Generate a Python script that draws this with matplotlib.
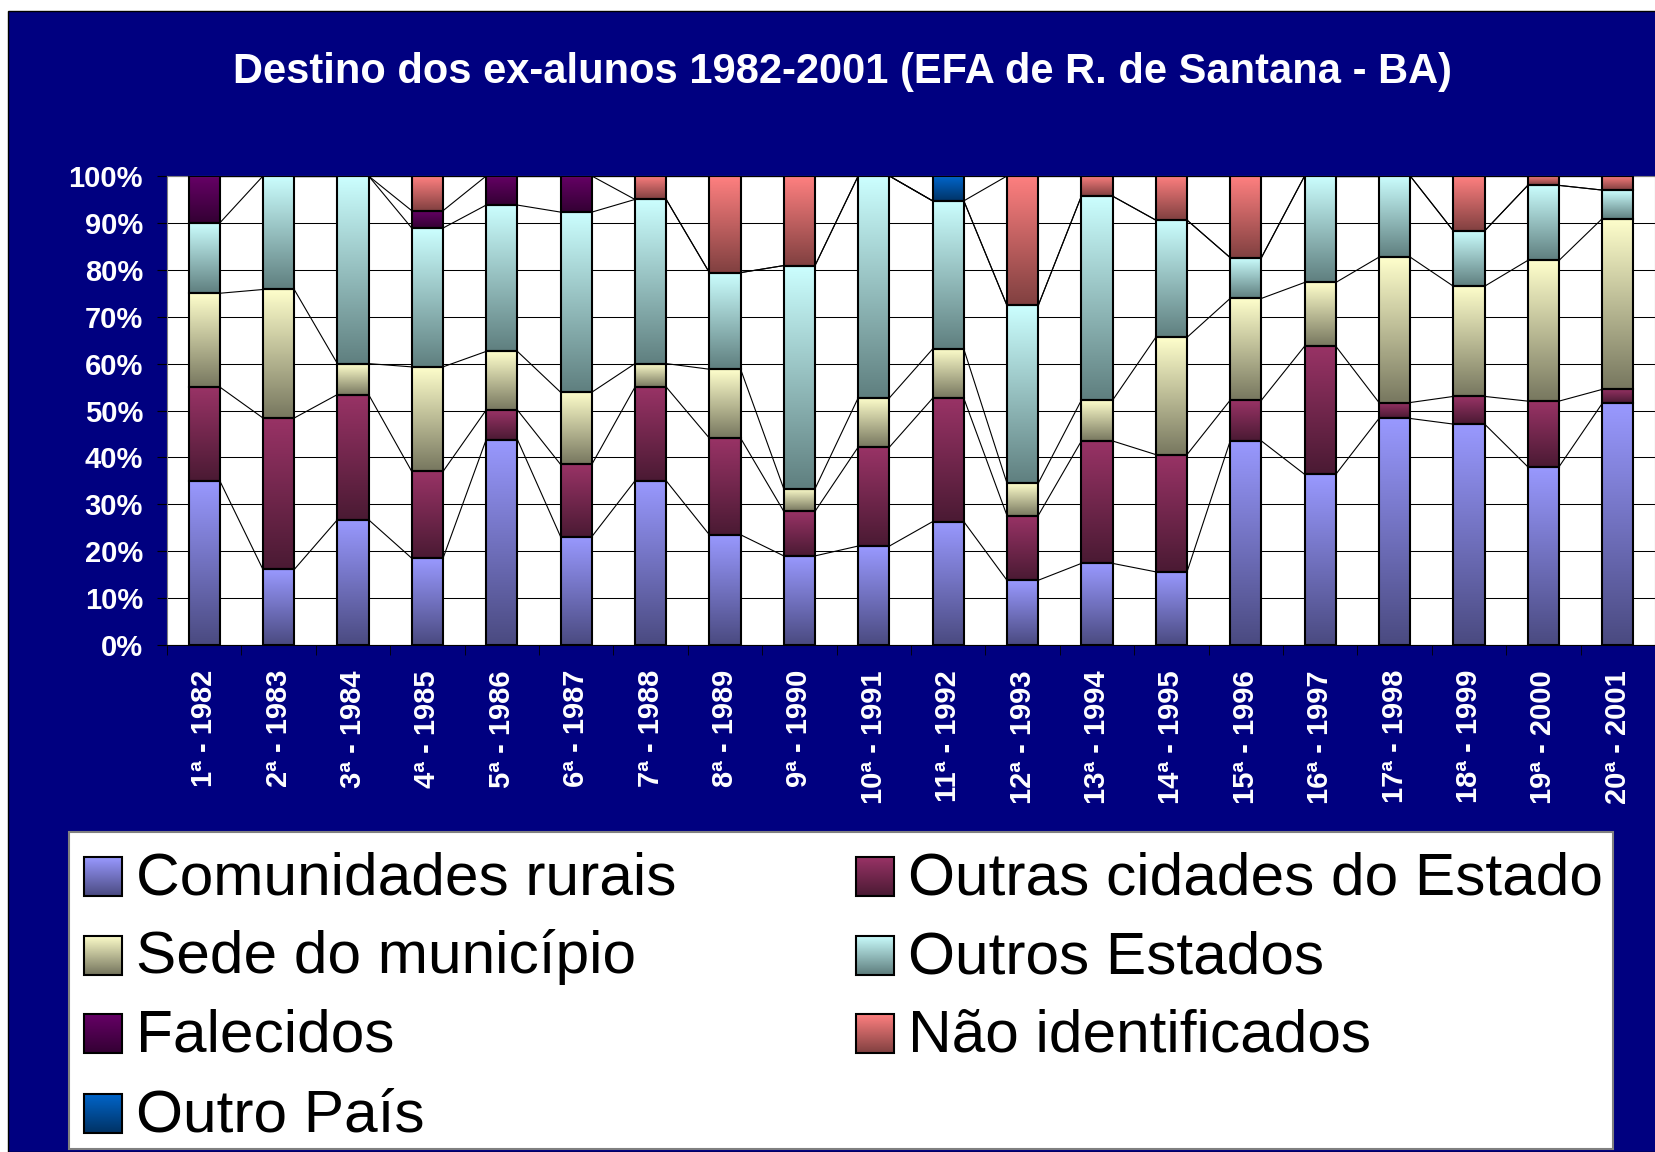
import numpy as np
import matplotlib
matplotlib.use("Agg")
import matplotlib.pyplot as plt
from matplotlib.patches import Rectangle
from matplotlib.colors import LinearSegmentedColormap

plt.rcParams["font.family"] = ["Liberation Sans", "DejaVu Sans"]

# ===============================
# DATA (percent of each class)
# ===============================
turmas = [
    "1ª - 1982", "2ª - 1983", "3ª - 1984", "4ª - 1985", "5ª - 1986",
    "6ª - 1987", "7ª - 1988", "8ª - 1989", "9ª - 1990", "10ª - 1991",
    "11ª - 1992", "12ª - 1993", "13ª - 1994", "14ª - 1995", "15ª - 1996",
    "16ª - 1997", "17ª - 1998", "18ª - 1999", "19ª - 2000", "20ª - 2001",
]
comunidades = [35.0, 16.1, 26.7, 18.5, 43.8, 23.1, 35.0, 23.5, 19.0, 21.1,
               26.3, 13.8, 17.4, 15.6, 43.5, 36.4, 48.3, 47.1, 38.0, 51.5]
outras_cidades = [20.0, 32.3, 26.7, 18.5, 6.3, 15.4, 20.0, 20.6, 9.5, 21.1,
                  26.3, 13.8, 26.1, 25.0, 8.7, 27.3, 3.4, 5.9, 14.0, 3.0]
sede = [20.0, 27.4, 6.6, 22.3, 12.5, 15.4, 5.0, 14.7, 4.8, 10.5,
        10.5, 6.9, 8.7, 25.0, 21.7, 13.6, 31.0, 23.5, 30.0, 36.4]
outros_estados = [15.0, 24.2, 40.0, 29.6, 31.2, 38.4, 35.0, 20.6, 47.6, 47.3,
                  31.6, 37.9, 43.5, 25.0, 8.7, 22.7, 17.3, 11.8, 16.0, 6.1]
falecidos = [10.0, 0, 0, 3.7, 6.2, 7.7, 0, 0, 0, 0,
             0, 0, 0, 0, 0, 0, 0, 0, 0, 0]
nao_ident = [0, 0, 0, 7.4, 0, 0, 5.0, 20.6, 19.1, 0,
             0, 27.6, 4.3, 9.4, 17.4, 0, 0, 11.7, 2.0, 3.0]
outro_pais = [0, 0, 0, 0, 0, 0, 0, 0, 0, 0,
              5.3, 0, 0, 0, 0, 0, 0, 0, 0, 0]

series_names = ["Comunidades rurais", "Outras cidades do Estado", "Sede do município",
                "Outros Estados", "Falecidos", "Não identificados", "Outro País"]
series_vals = [comunidades, outras_cidades, sede, outros_estados,
               falecidos, nao_ident, outro_pais]
# (top colour, bottom colour) of the gradient fill
series_cols = [("#9999FF", "#4A4A80"), ("#993366", "#4A1A33"), ("#FFFFCC", "#77775F"),
               ("#CCFFFF", "#5F7F7F"), ("#660066", "#330033"), ("#FF8080", "#804040"),
               ("#0066CC", "#003366")]

W, H = 1656, 1152
fig = plt.figure(figsize=(W / 100, H / 100), dpi=100)
fig.patch.set_facecolor("white")

# background canvas in pixel coordinates
bg = fig.add_axes([0, 0, 1, 1], zorder=0)
bg.set_xlim(0, W)
bg.set_ylim(H, 0)
bg.axis("off")
bg.add_patch(Rectangle((8, 11), W - 8, H - 11, facecolor="#000080", edgecolor="black", lw=1))
bg.text(843, 72, "Destino dos ex-alunos 1982-2001 (EFA de R. de Santana - BA)",
        ha="center", va="center", fontsize=30, fontweight="bold", color="white")

grad = np.linspace(0, 1, 256).reshape(-1, 1)

# ===============================
# MAIN PLOT
# ===============================
ax = fig.add_axes([167 / W, 1 - 645 / H, 1488 / W, 469 / H], zorder=1)
ax.set_facecolor("white")
x = np.arange(len(turmas))
bw = 0.42
bottom = np.zeros(len(turmas))
tops = []
for vals, (c_top, c_bot) in zip(series_vals, series_cols):
    vals = np.array(vals, dtype=float)
    cmap = LinearSegmentedColormap.from_list("g", [c_bot, c_top])
    bars = ax.bar(x, vals, width=bw, bottom=bottom, facecolor="none",
                  edgecolor="black", linewidth=1.5, zorder=3)
    for p in bars:
        if p.get_height() <= 0:
            p.set_visible(False)
            continue
        x0, y0 = p.get_x(), p.get_y()
        ax.imshow(grad, cmap=cmap, origin="lower", aspect="auto", interpolation="bilinear",
                  extent=(x0, x0 + p.get_width(), y0, y0 + p.get_height()), zorder=2.5)
    bottom = bottom + vals
    tops.append(bottom.copy())

# series lines between bars
for t in tops:
    for i in range(len(turmas) - 1):
        ax.plot([i + bw / 2, i + 1 - bw / 2], [t[i], t[i + 1]], color="black", lw=0.8, zorder=2.8)

ax.set_xlim(-0.5, len(turmas) - 0.5)
ax.set_ylim(0, 100)
ax.set_yticks(range(0, 101, 10))
ax.set_yticklabels([f"{v}%" for v in range(0, 101, 10)])
ax.yaxis.grid(True, color="black", lw=0.75)
ax.set_axisbelow(True)
ax.tick_params(axis="y", length=7.2, color="black", pad=10, labelsize=21, labelcolor="white")
for lab in ax.get_yticklabels():
    lab.set_fontweight("bold")

ax.set_xticks(x)
ax.set_xticklabels(turmas, rotation=90, fontweight="bold", fontsize=21, color="white", va="top")
ax.tick_params(axis="x", which="major", length=0, pad=18)
ax.set_xticks(np.arange(-0.5, len(turmas), 1), minor=True)
ax.tick_params(axis="x", which="minor", length=7.2, color="black")
for s in ax.spines.values():
    s.set_color("#808080")
ax.spines["bottom"].set_color("black")

# ===============================
# LEGEND (drawn on the canvas)
# ===============================
bg.add_patch(Rectangle((69, 832), 1613 - 69, 1149 - 832, facecolor="white",
                       edgecolor="#808080", lw=1.5))
col_x = [84, 856]
row_y = [876.5, 955, 1033.5, 1113]
for k, (name, (c_top, c_bot)) in enumerate(zip(series_names, series_cols)):
    cx = col_x[k % 2]
    cy = row_y[k // 2]
    cmap = LinearSegmentedColormap.from_list("g", [c_bot, c_top])
    bg.imshow(grad, cmap=cmap, origin="lower", aspect="auto", interpolation="bilinear",
              extent=(cx, cx + 38, cy + 19.5, cy - 19.5), zorder=3)
    bg.add_patch(Rectangle((cx, cy - 19.5), 38, 39, facecolor="none", edgecolor="black",
                           lw=1.5, zorder=4))
    bg.text(cx + 52, cy + 18, name, ha="left", va="baseline", fontsize=43.5, color="black", zorder=4)
bg.set_xlim(0, W)
bg.set_ylim(H, 0)

plt.savefig("out.png", dpi=100)
